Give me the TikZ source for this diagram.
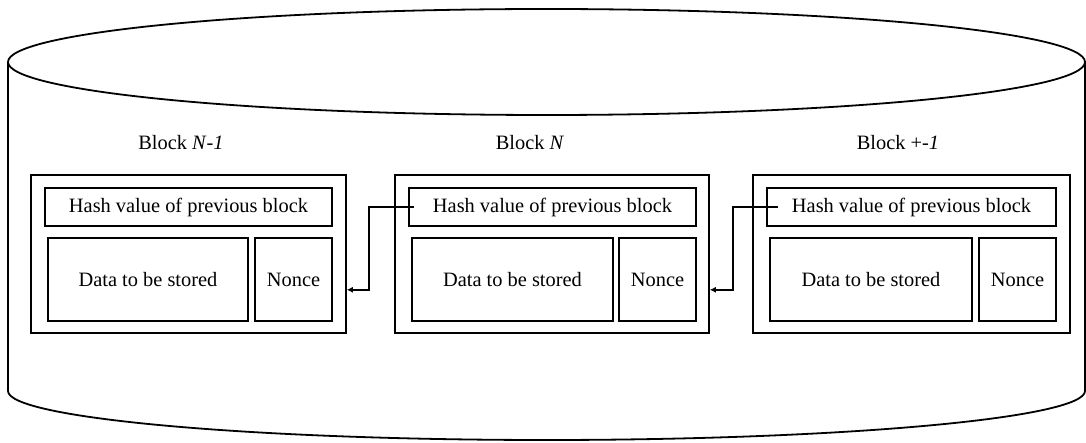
\documentclass[tikz,border=0pt]{standalone}
\usepackage{fontspec}
\setmainfont{Liberation Serif}
\usetikzlibrary{arrows.meta,calc}

\begin{document}
\begin{tikzpicture}[x=1pt,y=-1pt,
  every node/.style={font=\fontsize{20.4}{24}\selectfont, inner sep=0pt},
  frame/.style={draw, line width=1.6pt, minimum height=158pt},
  hashbox/.style={draw, line width=1.6pt, minimum height=38pt},
  cell/.style={draw, line width=1.6pt, minimum height=83pt},
  link/.style={line width=1.5pt, -{Latex[length=6pt,width=6pt]}},
  drum/.style={line width=1.8pt}]
\useasboundingbox (0,0) rectangle (1086,443);

% storage cylinder
\draw[drum] (546.5,62) ellipse [x radius=538.5, y radius=53];
\draw[drum] (8,62) -- (8,391) arc [start angle=180, end angle=0, x radius=538.5, y radius=49] -- (1085,62);

% block titles
\node (t1) at (181,143) {Block \textit{N}-\textit{1}};
\node (t2) at (530,143) {Block \textit{N}};
\node (t3) at (898,143) {Block +-\textit{1}};

% block N-1
\node[frame, minimum width=315pt] (b1) at (188.5,254) {};
\node[hashbox, minimum width=287pt] (h1) at (188.5,207) {Hash value of previous block};
\node[cell, minimum width=200pt] (d1) at (148,279.5) {Data to be stored};
\node[cell, minimum width=77pt] (n1) at (293.5,279.5) {Nonce};

% block N
\node[frame, minimum width=314pt] (b2) at (552,254) {};
\node[hashbox, minimum width=287pt] (h2) at (552.5,207) {Hash value of previous block};
\node[cell, minimum width=201pt] (d2) at (512.5,279.5) {Data to be stored};
\node[cell, minimum width=77pt] (n2) at (657.5,279.5) {Nonce};

% block +-1
\node[frame, minimum width=317pt] (b3) at (911.5,254) {};
\node[hashbox, minimum width=289pt] (h3) at (911.5,207) {Hash value of previous block};
\node[cell, minimum width=202pt] (d3) at (871,279.5) {Data to be stored};
\node[cell, minimum width=77pt] (n3) at (1017.5,279.5) {Nonce};

% hash links back to the previous block
\coordinate (in1) at ($(b1.south east)+(0,-44)$);
\coordinate (in2) at ($(b2.south east)+(0,-44)$);
\draw[link] ($(h2.west)+(6,0)$) -- ++(-45,0) |- (in1);
\draw[link] ($(h3.west)+(12,0)$) -- ++(-45,0) |- (in2);
\end{tikzpicture}
\end{document}
